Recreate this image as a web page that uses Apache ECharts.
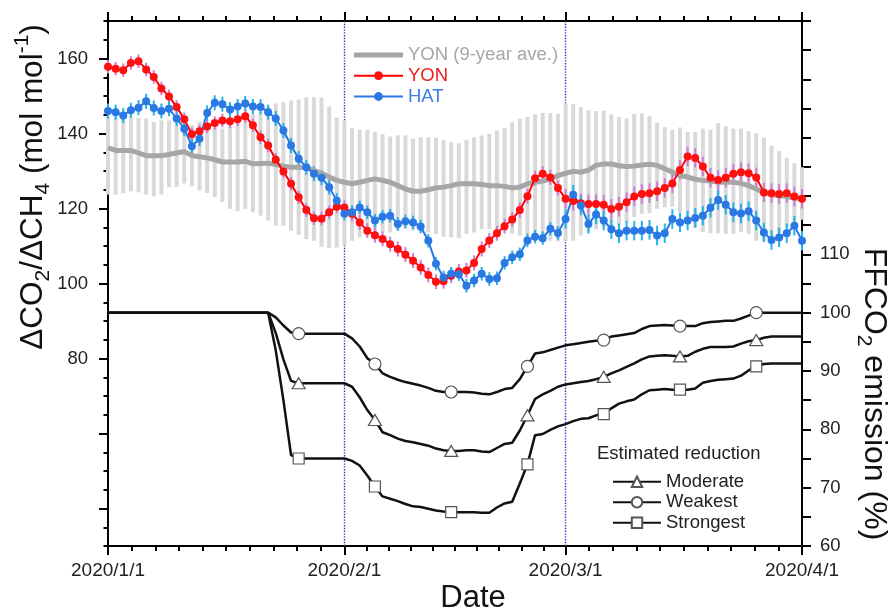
<!DOCTYPE html>
<html><head><meta charset="utf-8">
<script src="https://cdn.jsdelivr.net/npm/echarts@6/dist/echarts.min.js"></script>
<style>html,body{margin:0;padding:0;background:#fff}#c{width:891px;height:613px}</style>
</head><body><div id="c"></div>
<script>
const FONT = 'Liberation Sans, Arial, Helvetica, sans-serif';

// x axis: day offsets from 2020/1/1
const xTickDays = [0, 31, 60, 91];
const xTickLabels = ['2020/1/1', '2020/2/1', '2020/3/1', '2020/4/1'];
const guideDays = [31, 60];
const leftTickLabels = [80, 100, 120, 140, 160];
const leftMajorTicks = [40, 60, 80, 100, 120, 140, 160];
const rightTickLabels = [60, 70, 80, 90, 100, 110];
const markerDays = [25, 35, 45, 55, 65, 75, 85];

const yon = [157.8,157.3,156.9,158.8,159.3,157.1,155.1,152.0,149.9,147.1,
143.8,139.8,140.6,141.9,142.8,143.5,143.3,143.8,144.6,142.2,
139.0,136.8,133.0,129.9,126.6,123.0,119.6,117.4,117.3,119.0,
120.5,120.3,118.6,116.3,114.1,112.9,111.9,110.5,109.2,107.7,
106.1,104.3,102.3,100.5,100.6,102.1,103.2,103.5,105.5,109.2,
111.5,113.4,115.3,117.1,119.6,123.3,128.1,129.3,128.3,125.5,
122.6,122.0,121.4,121.2,121.2,121.0,119.9,120.5,121.7,123.2,
123.9,124.1,124.6,125.5,126.7,130.3,133.9,133.5,131.2,128.2,
127.6,128.2,129.3,129.7,129.4,128.3,124.3,124.1,123.9,124.1,
123.2,122.6];
const yonErr = [1.8,1.8,1.8,1.8,1.8,1.8,1.8,1.8,1.8,1.8,
1.8,1.8,1.8,1.8,1.8,1.8,1.8,1.8,1.8,1.8,
1.8,1.8,1.8,1.8,1.8,1.8,1.8,1.8,1.8,1.8,
1.8,2.0,2.0,2.0,2.0,2.0,2.0,2.0,2.0,2.0,
2.0,2.0,2.0,2.0,2.0,2.0,2.0,2.0,2.0,2.0,
2.0,2.0,2.0,2.0,2.0,2.0,2.0,2.0,2.0,2.0,
2.6,2.6,2.6,2.6,2.6,2.6,2.6,2.6,2.6,2.6,
2.6,2.6,2.6,2.6,2.6,2.6,2.6,2.6,2.6,2.6,
2.6,2.6,2.6,2.6,2.6,2.6,2.6,2.6,2.6,2.6,
2.6,2.6];
const hat = [146.0,145.7,144.8,146.2,146.9,148.6,146.8,146.0,146.6,144.0,
141.3,136.6,138.6,145.5,148.2,147.8,146.4,147.2,148.0,147.2,
147.1,145.7,144.0,140.8,136.8,133.3,131.0,129.3,128.2,125.7,
122.1,118.6,119.0,120.3,119.0,116.8,117.8,118.1,115.9,116.6,
116.3,115.2,111.4,105.3,101.6,102.6,102.5,99.4,100.8,102.6,
101.2,101.4,105.5,107.0,107.8,111.5,112.5,112.1,114.6,113.5,
117.2,123.7,120.8,115.9,118.4,116.8,114.5,113.4,114.1,114.1,
114.1,114.3,112.8,113.4,117.2,116.3,116.8,117.5,118.1,120.2,
122.3,121.0,119.0,118.7,119.3,116.8,113.6,111.6,112.3,113.4,
115.4,111.4];
const hatErr = [2.0,2.0,2.0,2.0,2.0,2.0,2.0,2.0,2.0,2.0,
2.0,2.0,2.0,2.0,2.0,2.0,2.0,2.0,2.0,2.0,
2.0,2.0,2.0,2.0,2.0,2.0,2.0,2.0,2.0,2.0,
2.0,1.8,1.8,1.8,1.8,1.8,1.8,1.8,1.8,1.8,
1.8,1.8,1.8,1.8,1.8,1.8,1.8,1.8,1.8,1.8,
1.8,1.8,1.8,1.8,1.8,1.8,1.8,1.8,1.8,1.8,
2.6,2.6,2.6,2.6,2.6,2.6,2.6,2.6,2.6,2.6,
2.6,2.6,2.6,2.6,2.6,2.6,2.6,2.6,2.6,2.6,
2.6,2.6,2.6,2.6,2.6,2.6,2.6,2.6,2.6,2.6,
2.6,2.6];
const yonAvg = [136.2,135.5,135.5,135.5,134.8,134.1,134.1,134.1,134.4,134.8,
135.2,134.1,133.8,133.5,133.0,132.4,132.4,132.4,132.6,131.9,
132.0,132.1,131.7,131.3,131.0,131.0,130.9,130.2,129.4,128.4,
127.5,127.0,126.6,127.0,127.5,127.9,127.5,127.0,126.1,125.2,
124.6,124.6,125.0,125.5,125.7,126.1,126.6,126.6,126.6,126.4,
126.1,126.1,125.9,125.5,125.7,126.6,127.0,127.3,127.9,128.8,
129.4,129.9,129.7,130.2,131.5,131.9,131.9,131.4,131.2,131.3,
131.6,131.8,131.5,130.6,129.7,128.8,128.4,127.8,127.5,127.3,
127.0,127.0,127.0,126.7,126.1,125.2,124.3,123.7,123.4,123.2,
122.8,122.6];
const yonAvgHigh = [144.4,144.4,144.0,144.4,144.2,144.0,143.1,143.5,143.5,143.5,
143.1,142.2,143.1,142.2,141.5,141.3,142.2,143.1,143.5,145.3,
145.7,147.1,148.0,148.4,148.8,149.1,149.7,149.7,149.6,147.2,
144.3,143.5,141.5,141.0,141.0,140.4,139.8,139.2,139.5,139.5,
138.6,139.0,139.0,138.9,138.2,137.7,137.4,138.3,139.0,139.5,
139.9,140.8,141.5,143.0,144.0,144.4,145.1,145.5,145.5,145.3,
148.0,147.8,147.1,146.2,146.0,146.1,145.1,144.4,144.0,145.2,
145.4,144.6,142.9,141.7,141.0,141.6,140.4,140.4,141.3,141.0,
142.8,141.9,141.3,141.3,140.6,140.1,138.9,136.8,135.3,133.5,
132.1,131.0];
const yonAvgLow = [123.7,123.7,124.1,124.6,124.3,123.7,123.2,123.7,125.7,125.7,
126.7,125.9,124.8,124.1,123.0,121.7,119.9,119.3,119.9,119.0,
118.1,116.8,115.4,115.4,114.1,113.0,111.9,111.4,109.8,109.5,
109.6,110.1,111.4,112.3,112.8,113.2,113.6,113.6,114.1,114.5,
114.1,113.6,113.6,113.2,112.5,112.3,112.1,113.2,113.6,114.5,
114.5,114.2,113.8,113.3,112.8,112.3,111.9,111.6,111.4,111.3,
111.4,111.4,112.8,113.7,114.5,115.0,115.0,115.4,116.3,117.7,
118.6,118.7,119.9,120.3,120.5,119.0,116.8,114.8,113.7,113.4,
113.4,113.2,113.2,113.7,113.2,111.4,111.4,112.5,113.5,115.0,
116.0,117.0];

const moderate = [100,100,100,100,100,100,100,100,100,100,
100,100,100,100,100,100,100,100,100,100,
100,100,96.5,92.0,88.3,87.9,87.9,87.9,87.9,87.9,
87.9,87.9,87.3,85.5,83.3,81.6,79.5,79.0,78.4,78.0,
77.8,77.5,77.2,76.7,76.4,76.3,76.3,76.4,76.4,76.2,
76.1,76.8,77.5,77.7,79.8,82.4,85.2,86.0,86.6,87.3,
87.7,87.9,88.1,88.3,88.6,89.0,89.6,90.1,90.7,91.3,
92.0,92.5,92.6,92.7,92.6,92.5,92.6,93.3,93.8,94.1,
94.1,94.1,94.2,94.7,95.1,95.3,95.7,95.9,95.9,95.9,
95.9,95.9];
const weakest = [100,100,100,100,100,100,100,100,100,100,
100,100,100,100,100,100,100,100,100,100,
100,100,99.2,97.8,96.6,96.4,96.4,96.4,96.4,96.4,
96.4,96.4,95.6,94.2,92.2,91.2,89.6,89.0,88.5,88.1,
87.8,87.5,87.1,86.6,86.4,86.4,86.4,86.4,86.3,86.1,
86.0,86.4,86.9,87.1,88.6,90.8,93.0,93.2,93.6,94.0,
94.4,94.6,94.8,95.0,95.2,95.3,95.9,96.1,96.3,96.5,
97.2,97.7,97.8,97.9,97.8,97.7,97.7,97.7,98.2,98.4,
98.5,98.6,98.6,99.0,99.5,100,100,100,100,100,
100,100];
const strongest = [100,100,100,100,100,100,100,100,100,100,
100,100,100,100,100,100,100,100,100,100,
100,100,93.5,85.0,75.6,75.0,75.0,75.0,75.0,75.0,
75.0,75.0,74.6,73.8,72.1,70.2,68.5,68.1,67.7,67.2,
66.8,66.7,66.4,66.1,65.9,65.8,65.8,65.8,65.8,65.7,
65.7,66.6,67.3,67.6,70.7,74.0,79.0,79.2,79.9,80.5,
80.9,81.4,81.8,81.9,82.4,82.6,83.6,84.4,84.8,85.1,
86.0,86.7,86.8,86.9,86.8,86.8,86.8,87.0,88.0,88.3,
88.5,88.6,88.7,89.2,90.1,90.8,91.2,91.3,91.3,91.3,
91.3,91.3];

// minor ticks: each month split in 10
const minorX = [];
for (let m = 0; m < xTickDays.length - 1; m++) {
  const a = xTickDays[m], b = xTickDays[m + 1];
  for (let k = 0; k < 10; k++) minorX.push(a + (b - a) * k / 10);
}
minorX.push(xTickDays[xTickDays.length - 1]);

const AX = { color: '#000', width: 2 };
const xLabelFmt = v => { const i = xTickDays.indexOf(Math.round(v)); return i >= 0 ? xTickLabels[i] : ''; };

function xAx(pos, custom, len, withLine, withLabel) {
  return {
    type: 'value', min: 0, max: 91, position: pos,
    axisLine: { show: withLine, onZero: false, lineStyle: AX },
    axisTick: { show: true, customValues: custom, length: len, inside: false, lineStyle: { color: '#000', width: 2 } },
    axisLabel: withLabel ? { show: true, customValues: xTickDays, formatter: xLabelFmt, fontSize: 19, fontFamily: FONT, color: '#222', margin: 15 } : { show: false },
    splitLine: { show: false }
  };
}

function errRender(color) {
  return function (params, api) {
    const x = api.value(0), v = api.value(1), e = api.value(2);
    const a = api.coord([x, v - e]), b = api.coord([x, v + e]);
    return { type: 'line', shape: { x1: a[0], y1: a[1], x2: b[0], y2: b[1] }, style: { stroke: color, lineWidth: 2 } };
  };
}

const days = yon.map((_, i) => i);
function markerSeries(name, arr, symbol, size) {
  return {
    name, type: 'line', xAxisIndex: 0, yAxisIndex: 1,
    symbol, symbolSize: size, showSymbol: true, showAllSymbol: true,
    lineStyle: { color: '#111', width: 2.5 },
    itemStyle: { color: '#fff', borderColor: '#555', borderWidth: 1.2 },
    data: arr.map((v, i) => markerDays.includes(i) ? [i, v] : { value: [i, v], symbol: 'none' }),
    z: 4
  };
}

const chart = echarts.init(document.getElementById('c'), null, { renderer: 'canvas' });
chart.setOption({
  animation: false,
  backgroundColor: '#fff',
  grid: { left: 108, right: 89, top: 21, bottom: 67, containLabel: false, outerBoundsMode: 'none' },
  xAxis: [
    xAx('bottom', minorX, 5, true, true),
    xAx('bottom', xTickDays, 9, false, false),
    xAx('top', minorX, 5, true, false),
    xAx('top', xTickDays, 9, false, false)
  ],
  yAxis: [
    { type: 'value', position: 'left', min: 30, max: 170, interval: 5,
      axisLine: { show: true, onZero: false, lineStyle: AX },
      axisTick: { show: true, length: 4.5, lineStyle: { color: '#000', width: 2 } },
      axisLabel: { customValues: leftTickLabels, fontSize: 18.5, fontFamily: FONT, color: '#222', margin: 20 },
      splitLine: { show: false } },
    { type: 'value', position: 'right', min: 60, max: 150, interval: 5,
      axisLine: { show: true, onZero: false, lineStyle: AX },
      axisTick: { show: true, length: 9, lineStyle: { color: '#000', width: 2 } },
      axisLabel: { customValues: rightTickLabels, fontSize: 18.5, fontFamily: FONT, color: '#222', margin: 18 },
      splitLine: { show: false } },
    { type: 'value', position: 'left', min: 30, max: 170,
      axisLine: { show: false },
      axisTick: { show: true, customValues: leftMajorTicks, length: 9, lineStyle: { color: '#000', width: 2 } },
      axisLabel: { show: false }, splitLine: { show: false } }
  ],
  legend: [
    { orient: 'vertical', left: 353, top: 44.5, padding: 0, itemGap: 0, itemWidth: 49, itemHeight: 11,
      selectedMode: false,
      textStyle: { fontSize: 18.5, fontFamily: FONT, lineHeight: 20.8 },
      data: [
        { name: 'YON (9-year ave.)', icon: 'path://M0,0H49V5H0Z', itemStyle: { color: '#a6a6a6' }, textStyle: { color: '#a6a6a6' } },
        { name: 'YON', textStyle: { color: '#ee1c1c' } },
        { name: 'HAT', textStyle: { color: '#3a7ee0' } }
      ] },
    { orient: 'vertical', left: 612, top: 471.5, padding: 0, itemGap: 0, itemWidth: 48, itemHeight: 13,
      selectedMode: false,
      textStyle: { fontSize: 18.5, fontFamily: FONT, color: '#222', lineHeight: 20.5 },
      data: ['Moderate', 'Weakest', 'Strongest'] }
  ],
  graphic: [
    { type: 'text', x: 33, y: 187, rotation: Math.PI / 2,
      style: { text: '{m|ΔCO}{s|2}{m|/ΔCH}{s|4}{m| (mol mol}{p|-1}{m|)}', align: 'center', verticalAlign: 'middle',
        fill: '#111',
        rich: {
          m: { fontSize: 31.5, fontFamily: FONT, lineHeight: 42, fill: '#111' },
          s: { fontSize: 21, fontFamily: FONT, lineHeight: 21, verticalAlign: 'bottom', fill: '#111' },
          p: { fontSize: 21, fontFamily: FONT, lineHeight: 21, verticalAlign: 'top', fill: '#111' }
        } } },
    { type: 'text', x: 874, y: 394, rotation: -Math.PI / 2,
      style: { text: '{m|FFCO}{s|2}{m| emission (%)}', align: 'center', verticalAlign: 'middle', fill: '#111',
        rich: {
          m: { fontSize: 32, fontFamily: FONT, lineHeight: 42, fill: '#111' },
          s: { fontSize: 21, fontFamily: FONT, lineHeight: 21, verticalAlign: 'bottom', fill: '#111' }
        } } },
    { type: 'text', x: 473, y: 598, style: { text: 'Date', font: '31px ' + FONT, fill: '#111', align: 'center', verticalAlign: 'middle' } },
    { type: 'text', x: 597, y: 454, style: { text: 'Estimated reduction', font: '18.5px ' + FONT, fill: '#222', align: 'left', verticalAlign: 'middle' } }
  ],
  series: [
    { type: 'line', data: [], xAxisIndex: 0, yAxisIndex: 0, z: 1,
      markLine: { silent: true, z: 1, symbol: ['none', 'none'], label: { show: false },
        lineStyle: { type: 'dotted', color: '#3434b8', width: 1.4 },
        emphasis: { disabled: true },
        data: guideDays.map(d => ({ xAxis: d })) } },
    { type: 'custom', xAxisIndex: 0, yAxisIndex: 0, z: 2,
      data: days.map(i => [i, yonAvgLow[i], yonAvgHigh[i]]),
      encode: { x: 0, y: [1, 2] },
      renderItem: (params, api) => {
        const x = api.value(0);
        const a = api.coord([x, api.value(2)]), b = api.coord([x, api.value(1)]);
        return { type: 'rect', shape: { x: a[0] - 2, y: a[1], width: 4, height: b[1] - a[1] }, style: { fill: '#d9d9d9' } };
      } },
    { name: 'YON (9-year ave.)', type: 'line', xAxisIndex: 0, yAxisIndex: 0, z: 3,
      symbol: 'none', lineStyle: { color: '#a6a6a6', width: 5 }, itemStyle: { color: '#a6a6a6' },
      data: days.map(i => [i, yonAvg[i]]) },
    { type: 'custom', xAxisIndex: 0, yAxisIndex: 0, z: 3,
      data: days.map(i => [i, yon[i], yonErr[i]]), encode: { x: 0, y: 1 },
      renderItem: errRender('#d27ad8') },
    { name: 'YON', type: 'line', xAxisIndex: 0, yAxisIndex: 0, z: 3,
      symbol: 'circle', symbolSize: 8, showAllSymbol: true,
      lineStyle: { color: '#ff0000', width: 2 }, itemStyle: { color: '#ff1010' },
      data: days.map(i => [i, yon[i]]) },
    { type: 'custom', xAxisIndex: 0, yAxisIndex: 0, z: 3,
      data: days.map(i => [i, hat[i], hatErr[i]]), encode: { x: 0, y: 1 },
      renderItem: errRender('#20b4ec') },
    { name: 'HAT', type: 'line', xAxisIndex: 0, yAxisIndex: 0, z: 3,
      symbol: 'circle', symbolSize: 8, showAllSymbol: true,
      lineStyle: { color: '#2a78e4', width: 2 }, itemStyle: { color: '#2a78e4' },
      data: days.map(i => [i, hat[i]]) },
    markerSeries('Moderate', moderate, 'triangle', [13, 11]),
    markerSeries('Weakest', weakest, 'circle', 12),
    markerSeries('Strongest', strongest, 'rect', 11)
  ]
});
</script>
</body></html>
